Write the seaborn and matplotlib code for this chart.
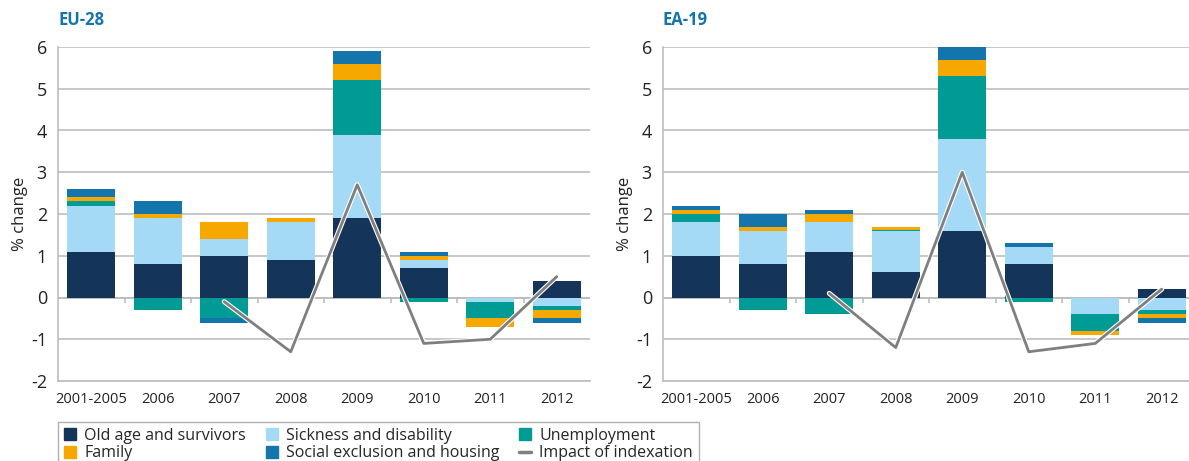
import matplotlib
matplotlib.use("Agg")
import matplotlib.pyplot as plt
import matplotlib.patheffects as pe
from matplotlib.lines import Line2D
import numpy as np
import pandas as pd
import seaborn as sns

categories = ["2001-2005", "2006", "2007", "2008", "2009", "2010", "2011", "2012"]
series = ["Old age and survivors", "Sickness and disability", "Unemployment",
          "Family", "Social exclusion and housing"]
colors = ["#153459", "#A4DAF6", "#009B94", "#F6A800", "#1474AC"]

# EU-28 contributions (percentage points)
eu_old = [1.1, 0.8, 1.0, 0.9, 1.9, 0.7, 0.0, 0.4]
eu_sick = [1.1, 1.1, 0.4, 0.9, 2.0, 0.2, -0.1, -0.2]
eu_unemp = [0.1, -0.3, -0.5, 0.0, 1.3, -0.1, -0.4, -0.1]
eu_family = [0.1, 0.1, 0.4, 0.1, 0.4, 0.1, -0.2, -0.2]
eu_social = [0.2, 0.3, -0.1, 0.0, 0.3, 0.1, 0.0, -0.1]
eu_index = [np.nan, np.nan, -0.1, -1.3, 2.7, -1.1, -1.0, 0.5]

# EA-19 contributions
ea_old = [1.0, 0.8, 1.1, 0.6, 1.6, 0.8, 0.0, 0.2]
ea_sick = [0.8, 0.8, 0.7, 1.0, 2.2, 0.4, -0.4, -0.3]
ea_unemp = [0.2, -0.3, -0.4, 0.02, 1.5, -0.1, -0.4, -0.1]
ea_family = [0.1, 0.1, 0.2, 0.08, 0.4, 0.0, -0.1, -0.1]
ea_social = [0.1, 0.3, 0.1, 0.0, 0.3, 0.1, 0.0, -0.1]
ea_index = [np.nan, np.nan, 0.1, -1.2, 3.0, -1.3, -1.1, 0.2]

sns.set_style("white")
plt.rcParams["font.family"] = ["Open Sans", "DejaVu Sans"]
plt.rcParams["axes.unicode_minus"] = False

fig = plt.figure(figsize=(11.89, 4.61), dpi=100)
grid_c = "#BDBDBD"


def draw_panel(ax, title, parts, index):
    df = pd.DataFrame(dict(zip(series, parts)), index=categories)
    x = np.arange(len(categories))
    pos_base = np.zeros(len(categories))
    neg_base = np.zeros(len(categories))
    for name, col in zip(series, colors):
        vals = df[name].to_numpy()
        pos = np.where(vals > 0, vals, 0)
        neg = np.where(vals < 0, vals, 0)
        ax.bar(x, pos, bottom=pos_base, width=0.72, color=col, linewidth=0, zorder=2)
        ax.bar(x, neg, bottom=neg_base, width=0.72, color=col, linewidth=0, zorder=2)
        pos_base += pos
        neg_base += neg
    line_df = pd.DataFrame({"x": x, "v": index}).dropna()
    sns.lineplot(data=line_df, x="x", y="v", ax=ax, color="#7F7F7F", lw=2.0, zorder=4,
                 path_effects=[pe.Stroke(linewidth=3.6, foreground="white"), pe.Normal()])
    ax.set_ylim(-2, 6)
    ax.set_xlim(-0.5, len(categories) - 0.5)
    ax.set_yticks(range(-2, 7))
    ax.yaxis.grid(True, color=grid_c, lw=1.2, zorder=0)
    ax.axhline(0, color=grid_c, lw=1.2, zorder=1)
    ax.vlines(x[:-1] + 0.5, -0.12, 0, color=grid_c, lw=1.2, zorder=1)
    ax.set_xticks(x)
    ax.set_xticklabels(categories, fontsize=10.5, color="#222222")
    ax.tick_params(axis="y", labelsize=13, length=0, pad=8, colors="#222222")
    ax.tick_params(axis="x", length=0, pad=8)
    for s in ["top", "right"]:
        ax.spines[s].set_visible(False)
    ax.spines["left"].set_color(grid_c)
    ax.spines["bottom"].set_color(grid_c)
    ax.spines["left"].set_linewidth(1.2)
    ax.spines["bottom"].set_linewidth(1.2)
    ax.set_ylabel("% change", fontsize=12, color="#222222", labelpad=2)
    ax.set_xlabel("")
    ax.text(0.0, 1.055, title, transform=ax.transAxes, fontsize=12, fontweight="bold",
            color="#1474AC", ha="left", va="bottom")


axw = 532 / 1189
ax1 = fig.add_axes([58 / 1189, 80 / 461, axw, 334 / 461])
ax2 = fig.add_axes([663 / 1189, 80 / 461, axw, 334 / 461])
draw_panel(ax1, "EU-28", [eu_old, eu_sick, eu_unemp, eu_family, eu_social], eu_index)
draw_panel(ax2, "EA-19", [ea_old, ea_sick, ea_unemp, ea_family, ea_social], ea_index)


def sq(c):
    return Line2D([], [], marker="s", ls="none", color=c, markersize=8)


handles = [sq(colors[0]), sq(colors[3]), sq(colors[1]), sq(colors[4]), sq(colors[2]),
           Line2D([], [], color="#7F7F7F", lw=2.5)]
labels = [series[0], series[3], series[1], series[4], series[2], "Impact of indexation"]
leg = fig.legend(handles, labels, ncol=3, loc="upper left",
                 bbox_to_anchor=(58 / 1189, 39 / 461), fontsize=11.5, frameon=True,
                 fancybox=False, handlelength=0.8, handletextpad=0.5, columnspacing=1.2,
                 labelspacing=0.1, borderpad=0.35, borderaxespad=0)
leg.get_frame().set_edgecolor("#9E9E9E")
leg.get_frame().set_linewidth(1.0)

fig.savefig("out.png", dpi=100)
